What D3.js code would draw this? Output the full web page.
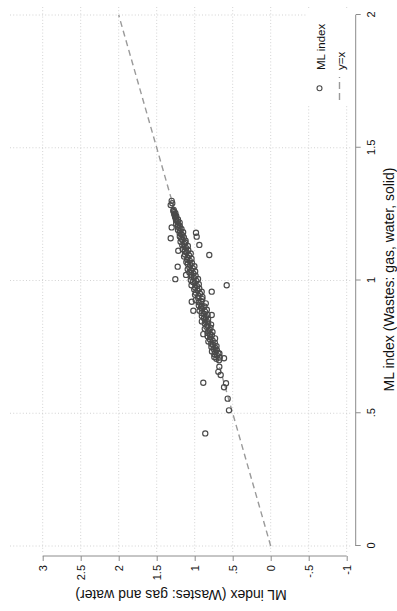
<!DOCTYPE html>
<html><head><meta charset="utf-8">
<script src="https://cdn.jsdelivr.net/npm/d3@7"></script>
<style>html,body{margin:0;padding:0;background:#fff;}svg{display:block;}</style>
</head><body>
<script>
// Data: x = ML index (Wastes: gas, water, solid), y = ML index (Wastes: gas and water)
const mlGasWaterSolid = [
0.700,0.705,0.710,0.712,0.718,0.722,0.725,0.730,0.733,0.738,0.742,0.745,0.750,0.753,0.758,0.762,0.765,0.770,0.773,0.778,
0.782,0.786,0.790,0.794,0.798,0.802,0.806,0.810,0.814,0.818,0.822,0.826,0.830,0.834,0.838,0.842,0.846,0.850,0.854,0.858,
0.862,0.866,0.870,0.874,0.878,0.882,0.886,0.890,0.894,0.898,0.902,0.906,0.910,0.914,0.918,0.922,0.926,0.930,0.934,0.938,
0.942,0.946,0.950,0.954,0.958,0.962,0.966,0.970,0.974,0.978,0.982,0.986,0.990,0.994,0.998,1.002,1.006,1.010,1.014,1.018,
1.022,1.026,1.030,1.034,1.038,1.042,1.046,1.050,1.054,1.058,1.062,1.066,1.070,1.074,1.078,1.082,1.086,1.090,1.094,1.098,
1.102,1.106,1.110,1.114,1.118,1.122,1.126,1.130,1.134,1.138,1.142,1.146,1.150,1.154,1.158,1.162,1.166,1.170,1.174,1.178,
1.182,1.186,1.190,1.194,1.198,1.202,1.206,1.210,1.214,1.218,1.222,1.226,1.230,1.234,1.238,1.242,1.246,1.250,1.254,1.258,
1.262,1.266,
1.300,1.291,1.284,1.159,1.200,1.180,1.165,1.134,1.096,1.112,1.052,1.005,1.021,0.982,0.958,0.920,0.886,0.870,0.798,0.726,
0.707,0.675,0.656,0.644,0.615,0.613,0.598,0.555,0.511,0.424
];
const mlGasWater = [
0.680,0.715,0.670,0.742,0.708,0.742,0.675,0.730,0.773,0.708,0.752,0.725,0.780,0.713,0.758,0.782,0.735,0.820,0.763,0.798,
0.732,0.796,0.830,0.774,0.798,0.832,0.766,0.820,0.804,0.868,0.792,0.846,0.830,0.784,0.868,0.822,0.906,0.860,0.824,0.878,
0.852,0.906,0.830,0.874,0.908,0.862,0.936,0.840,0.904,0.918,0.872,0.946,0.910,0.854,0.948,0.912,0.986,0.900,0.954,0.898,
0.952,0.996,0.930,0.984,0.908,0.962,1.006,0.940,0.994,0.968,1.042,0.946,1.000,1.024,0.978,1.052,0.956,1.010,1.044,0.988,
1.042,1.016,1.070,0.994,1.048,1.092,1.026,1.070,1.004,1.058,1.092,1.036,1.110,1.064,1.098,1.042,1.096,1.140,1.074,1.128,
1.052,1.106,1.130,1.084,1.158,1.112,1.136,1.090,1.164,1.138,1.122,1.186,1.120,1.164,1.178,1.142,1.196,1.160,1.174,1.198,
1.152,1.196,1.220,1.174,1.198,1.222,1.196,1.220,1.244,1.198,1.222,1.246,1.220,1.244,1.258,1.242,1.256,1.270,1.254,1.268,
1.282,1.276,
1.303,1.295,1.316,1.316,1.303,0.983,0.974,0.939,0.808,1.216,1.224,1.255,1.114,0.579,0.776,1.039,1.018,0.776,0.887,0.689,
0.614,0.676,0.689,0.658,0.887,0.588,0.614,0.566,0.549,0.861
];
const xTicks = [0, 0.5, 1, 1.5, 2];
const xTickLabels = ["0", ".5", "1", "1.5", "2"];
const yTicks = [-1, -0.5, 0, 0.5, 1, 1.5, 2, 2.5, 3];
const yTickLabels = ["-1", "-.5", "0", ".5", "1", "1.5", "2", "2.5", "3"];
const refLine = [0, 2];
const xTitle = "ML index (Wastes: gas, water, solid)";
const yTitle = "ML index (Wastes: gas and water)";
const legendLabels = ["ML index", "y=x"];

const W = 397, H = 611;
const font = "'Liberation Sans', Arial, Helvetica, sans-serif";
const svg = d3.select("body").append("svg").attr("width", W).attr("height", H);
// Chart is drawn in its own landscape frame (611 x 397) and rotated 90deg counter-clockwise.
const g = svg.append("g").attr("transform", `translate(0,${H}) rotate(-90)`);

const x = d3.scaleLinear().domain([0, 2]).range([65, 596]);
const y = d3.scaleLinear().domain([-1, 3]).range([346.7, 42.7]);
const plot = {x0: 59, x1: 604, y0: 10, y1: 352};

// gridlines
const gridStyle = s => s.attr("stroke", "#c8c8c8").attr("stroke-width", 0.8).attr("stroke-dasharray", "1,2.2").attr("fill", "none");
g.append("g").selectAll("line").data(xTicks).join("line")
  .attr("x1", d => x(d)).attr("x2", d => x(d)).attr("y1", plot.y0).attr("y2", plot.y1).call(gridStyle);
g.append("g").selectAll("line").data(yTicks).join("line")
  .attr("y1", d => y(d)).attr("y2", d => y(d)).attr("x1", plot.x0).attr("x2", plot.x1).call(gridStyle);

// y = x reference line
g.append("line")
  .attr("x1", x(refLine[0])).attr("y1", y(refLine[0]))
  .attr("x2", x(refLine[1])).attr("y2", y(refLine[1]))
  .attr("stroke", "#9a9a9a").attr("stroke-width", 1.4).attr("stroke-dasharray", "6,4");

// points
const pts = mlGasWaterSolid.map((d, i) => [d, mlGasWater[i]]);
g.append("g").selectAll("circle").data(pts).join("circle")
  .attr("cx", d => x(d[0])).attr("cy", d => y(d[1])).attr("r", 2.6)
  .attr("fill", "none").attr("stroke", "#4a4a4a").attr("stroke-width", 1.15);

// x axis (bottom in landscape frame)
const xAxis = d3.axisBottom(x).tickValues(xTicks).tickFormat((d, i) => xTickLabels[i]).tickSize(5).tickPadding(7);
const xa = g.append("g").attr("transform", "translate(0,355.7)").call(xAxis);
// y axis (left)
const yAxis = d3.axisLeft(y).tickValues(yTicks).tickFormat((d, i) => yTickLabels[i]).tickSize(5).tickPadding(4);
const ya = g.append("g").attr("transform", "translate(55,0)").call(yAxis);
[xa, ya].forEach(a => {
  a.select(".domain").attr("stroke", "#8c8c8c").attr("stroke-width", 1);
  a.selectAll(".tick line").attr("stroke", "#8c8c8c").attr("stroke-width", 1);
  a.selectAll("text").attr("font-family", font).attr("font-size", 11).attr("fill", "#111");
});
xa.select(".domain").attr("d", `M${x(0)},0H${x(2)}`);
ya.select(".domain").attr("d", `M0,${y(-1)}V${y(3)}`);
xa.selectAll(".tick text").attr("dy", "0.71em");

// titles
g.append("text").attr("x", (plot.x0 + plot.x1) / 2).attr("y", 393.5).attr("text-anchor", "middle")
  .attr("font-family", font).attr("font-size", 14).attr("fill", "#111").text(xTitle);
g.append("text").attr("transform", `translate(21,${(plot.y0 + plot.y1) / 2}) rotate(-90)`).attr("text-anchor", "middle")
  .attr("font-family", font).attr("font-size", 14).attr("fill", "#111").text(yTitle);

// legend
const lg = g.append("g");
lg.append("rect").attr("x", 505).attr("y", 306).attr("width", 96).attr("height", 45).attr("fill", "#fff");
lg.append("circle").attr("cx", 522.7).attr("cy", 319.5).attr("r", 2.5)
  .attr("fill", "none").attr("stroke", "#4a4a4a").attr("stroke-width", 1.1);
lg.append("line").attr("x1", 511).attr("x2", 534).attr("y1", 339.5).attr("y2", 339.5)
  .attr("stroke", "#9a9a9a").attr("stroke-width", 1.4).attr("stroke-dasharray", "7,4");
lg.selectAll("text").data(legendLabels).join("text")
  .attr("x", 541).attr("y", (d, i) => i === 0 ? 320.5 : 340.5).attr("dominant-baseline", "central")
  .attr("font-family", font).attr("font-size", 11.5).attr("fill", "#111").text(d => d);
</script>
</body></html>
